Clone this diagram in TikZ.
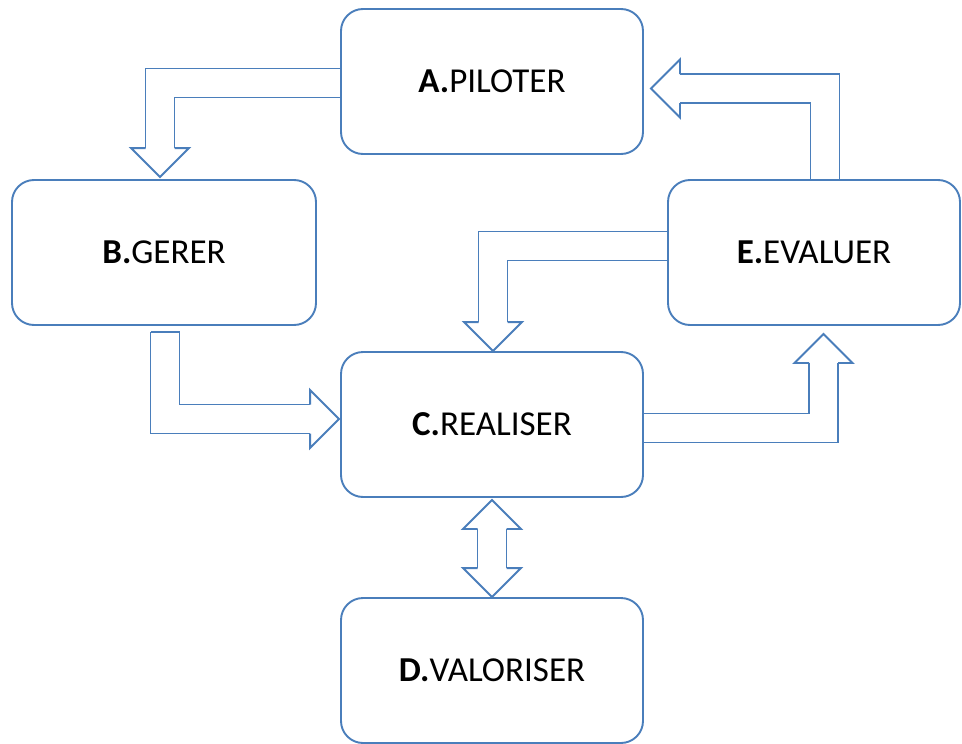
\documentclass[tikz,border=0pt]{standalone}
\usepackage{fontspec}
\setmainfont{Carlito}
\usetikzlibrary{positioning,calc,backgrounds}
\definecolor{boxblue}{HTML}{4A7EBB}
\tikzset{
    stage/.style = {draw=boxblue, fill=white, rectangle,
        rounded corners=22pt, line width=1.9pt,
        minimum width=302pt, minimum height=145pt,
        font=\fontsize{35}{40}\selectfont},
    shaft/.style = {draw=boxblue, line width=1.9pt, double=white,
        double distance=27.1pt, line join=miter, line cap=butt},
    head/.style = {draw=boxblue, fill=white, line width=1.9pt, line join=miter}
}
% hollow arrow head: tip, rotation (0 = pointing down)
\newcommand\blockhead[2]{\draw[head, shift={(#1)}, rotate=#2]
    (-14.5,-29) -- (-29,-29) -- (0,0) -- (29,-29) -- (14.5,-29);}

\begin{document}
\begin{tikzpicture}[x=1pt, y=-1pt]
    \useasboundingbox (0,0) rectangle (962,744);
    \node[stage] (A) at (492,81.5) {\textbf{A.}PILOTER};
    \node[stage, minimum width=304pt] (B) at (164,252.5) {\textbf{B.}GERER};
    \node[stage] (C) at (492,424.5) {\textbf{C.}REALISER};
    \node[stage] (D) at (492,670.5) {\textbf{D.}VALORISER};
    \node[stage, minimum width=292pt] (E) at (814,252.5) {\textbf{E.}EVALUER};
    % arrow tips
    \coordinate (tAB) at ($(B.north)+(-4,-2)$);
    \coordinate (tBC) at ($(C.west)+(-1,-5.5)$);
    \coordinate (tEC) at ($(C.north)+(1,0)$);
    \coordinate (tCE) at ($(E.south)+(9.5,8)$);
    \coordinate (tEA) at ($(A.east)+(7,7)$);
    \coordinate (tCD) at ($(C.south)+(0,2)$);
    \coordinate (tDC) at (D.north);
    \begin{scope}[on background layer]
        \draw[shaft] ($(A.west)+(0,1.5)$) -| ($(tAB)+(0,-29)$);
        \blockhead{tAB}{0}
        \draw[shaft] ($(B.south)+(1,6)$) |- ($(tBC)+(-29,0)$);
        \draw[draw=boxblue, line width=1.9pt] ($(B.south)+(-13.5,6)$) -- ++(29,0);
        \blockhead{tBC}{90}
        \draw[shaft] ($(E.west)+(0,-6.5)$) -| ($(tEC)+(0,-29)$);
        \blockhead{tEC}{0}
        \draw[shaft] ($(C.east)+(0,3.5)$) -| ($(tCE)+(0,29)$);
        \blockhead{tCE}{180}
        \draw[shaft] ($(E.north)+(11,0)$) |- ($(tEA)+(29,0)$);
        \blockhead{tEA}{-90}
        \draw[shaft] ($(tCD)+(0,29)$) -- ($(tDC)+(0,-29)$);
        \blockhead{tCD}{180}
        \blockhead{tDC}{0}
    \end{scope}
\end{tikzpicture}
\end{document}
